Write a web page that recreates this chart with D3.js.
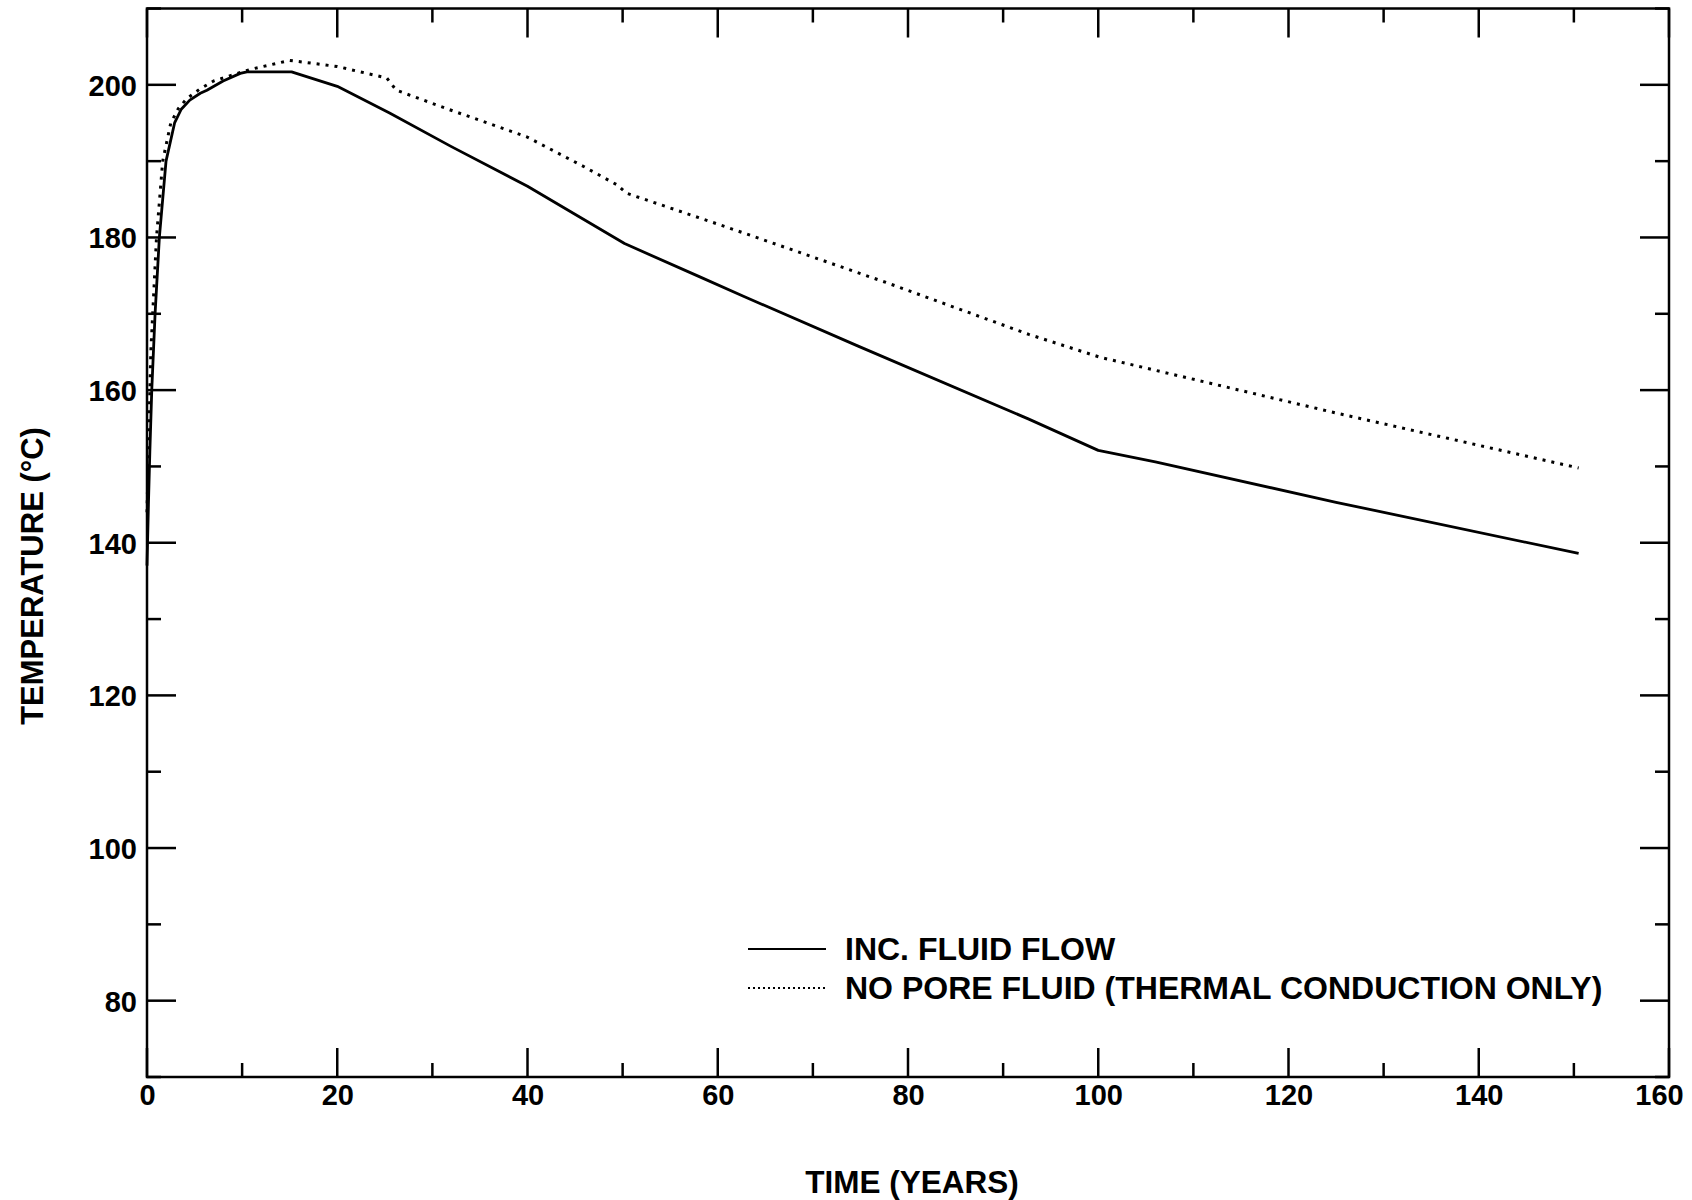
<!DOCTYPE html>
<html>
<head>
<meta charset="utf-8">
<script src="https://cdn.jsdelivr.net/npm/d3@7"></script>
<style>
  body { margin: 0; background: #fff; }
  svg { display: block; }
  text { font-family: "Liberation Sans", Arial, Helvetica, sans-serif; font-weight: bold; fill: #000; }
</style>
</head>
<body>
<svg width="1692" height="1200"></svg>
<script>
// INC. FLUID FLOW
var flowYears = [0, 0.15, 0.3, 0.5, 0.85, 1.3, 2.0, 2.9, 3.6, 4.5, 5.6, 6.3, 8, 9.8, 10.5, 15.2, 20, 25.5, 32, 40, 50.2, 58, 62.7, 74.7, 92.7, 100, 106, 125, 150.5];
var flowTemps = [137, 145, 152, 160, 170, 180, 190, 195, 196.8, 198, 198.9, 199.3, 200.5, 201.5, 201.7, 201.7, 199.8, 196.3, 191.9, 186.7, 179.2, 174.9, 172.3, 165.8, 156.2, 152.1, 150.6, 145.3, 138.6];

// NO PORE FLUID (THERMAL CONDUCTION ONLY)
var condYears = [0, 0.2, 0.4, 0.6, 1.0, 1.65, 2.5, 3.3, 4.2, 5.5, 7, 10.8, 15, 20, 25.2, 26.2, 31.9, 39.9, 45.9, 49.4, 50.4, 58, 62.7, 77.7, 92.7, 100.2, 106, 125, 150.5];
var condTemps = [144, 155, 165, 170, 180, 190, 195, 196.9, 198.2, 199.4, 200.5, 202, 203.2, 202.4, 200.9, 199.3, 196.7, 193.2, 189.3, 186.9, 185.8, 182.6, 180.6, 174.1, 167.3, 164.3, 162.6, 157.0, 149.8];

var xMajor = [0, 20, 40, 60, 80, 100, 120, 140, 160];
var xMinor = [10, 30, 50, 70, 90, 110, 130, 150];
var yMajor = [80, 100, 120, 140, 160, 180, 200];
var yMinor = [70, 90, 110, 130, 150, 170, 190, 210];

var legendLabels = ['INC. FLUID FLOW', 'NO PORE FLUID (THERMAL CONDUCTION ONLY)'];

var svg = d3.select('svg'),
    plotLeft = 147,
    plotRight = 1669,
    plotTop = 8.5,
    plotBottom = 1077,
    majorLen = 29,
    minorLen = 14;

var x = d3.scaleLinear().domain([0, 160]).range([plotLeft, plotRight]),
    y = d3.scaleLinear().domain([70, 210]).range([plotBottom, plotTop]);

drawTicks();
drawFrame();
drawLabels();
drawSeries(flowYears, flowTemps, null);
drawSeries(condYears, condTemps, '3,6');
drawLegend();

function drawTicks() {
    var g = svg.append('g').attr('stroke', '#000').attr('stroke-width', 2.5);
    var i;
    for (i = 0; i < xMajor.length; i++) {
        vTick(g, x(xMajor[i]), majorLen);
    }
    for (i = 0; i < xMinor.length; i++) {
        vTick(g, x(xMinor[i]), minorLen);
    }
    for (i = 0; i < yMajor.length; i++) {
        hTick(g, y(yMajor[i]), majorLen);
    }
    for (i = 0; i < yMinor.length; i++) {
        hTick(g, y(yMinor[i]), minorLen);
    }
}

function vTick(g, px, len) {
    // bottom ticks and top ticks, both pointing inward
    g.append('line').attr('x1', px).attr('x2', px).attr('y1', plotBottom).attr('y2', plotBottom - len);
    g.append('line').attr('x1', px).attr('x2', px).attr('y1', plotTop).attr('y2', plotTop + len);
}

function hTick(g, py, len) {
    g.append('line').attr('x1', plotLeft).attr('x2', plotLeft + len).attr('y1', py).attr('y2', py);
    g.append('line').attr('x1', plotRight).attr('x2', plotRight - len).attr('y1', py).attr('y2', py);
}

function drawFrame() {
    svg.append('rect')
        .attr('x', plotLeft)
        .attr('y', plotTop)
        .attr('width', plotRight - plotLeft)
        .attr('height', plotBottom - plotTop)
        .attr('fill', 'none')
        .attr('stroke', '#000')
        .attr('stroke-width', 2.5);
}

function drawLabels() {
    var xAxis = d3.axisBottom(x).tickValues(xMajor).tickSize(0).tickPadding(0).tickFormat(d3.format('d'));
    var gx = svg.append('g').attr('transform', 'translate(0,' + (plotBottom + 28) + ')').call(xAxis);
    gx.select('.domain').remove();
    gx.selectAll('text').attr('dy', 0).attr('font-size', 29).style('font-family', null);
    // last label sits a bit left so it stays on the page
    gx.selectAll('text').filter(function(d) { return d === 160; }).attr('dx', -10);

    var yAxis = d3.axisLeft(y).tickValues(yMajor).tickSize(0).tickPadding(0).tickFormat(d3.format('d'));
    var gy = svg.append('g').attr('transform', 'translate(' + (plotLeft - 10) + ',0)').call(yAxis);
    gy.select('.domain').remove();
    gy.selectAll('text').attr('dy', '0.36em').attr('font-size', 29).style('font-family', null);

    svg.append('text')
        .attr('x', 912)
        .attr('y', 1193)
        .attr('text-anchor', 'middle')
        .attr('font-size', 31.5)
        .text('TIME (YEARS)');

    svg.append('text')
        .attr('transform', 'translate(43,576) rotate(-90)')
        .attr('text-anchor', 'middle')
        .attr('font-size', 31)
        .text('TEMPERATURE (°C)');
}

function drawSeries(years, temps, dash) {
    var pts = [];
    for (var i = 0, l = years.length; i < l; i++) {
        pts.push([years[i], temps[i]]);
    }
    var line = d3.line()
        .x(function(d) { return x(d[0]); })
        .y(function(d) { return y(d[1]); });
    var p = svg.append('path')
        .attr('d', line(pts))
        .attr('fill', 'none')
        .attr('stroke', '#000')
        .attr('stroke-width', dash ? 3 : 2.8)
        .attr('stroke-linejoin', 'round');
    if (dash) p.attr('stroke-dasharray', dash);
}

function drawLegend() {
    var rows = [{ y: 949, dash: null }, { y: 988, dash: '2,3' }];
    for (var i = 0; i < rows.length; i++) {
        var l = svg.append('line')
            .attr('x1', 748).attr('x2', 826)
            .attr('y1', rows[i].y).attr('y2', rows[i].y)
            .attr('stroke', '#000')
            .attr('stroke-width', rows[i].dash ? 1.8 : 2);
        if (rows[i].dash) l.attr('stroke-dasharray', rows[i].dash);
        svg.append('text')
            .attr('x', 845)
            .attr('y', rows[i].y + 11)
            .attr('font-size', 32)
            .text(legendLabels[i]);
    }
}
</script>
</body>
</html>
